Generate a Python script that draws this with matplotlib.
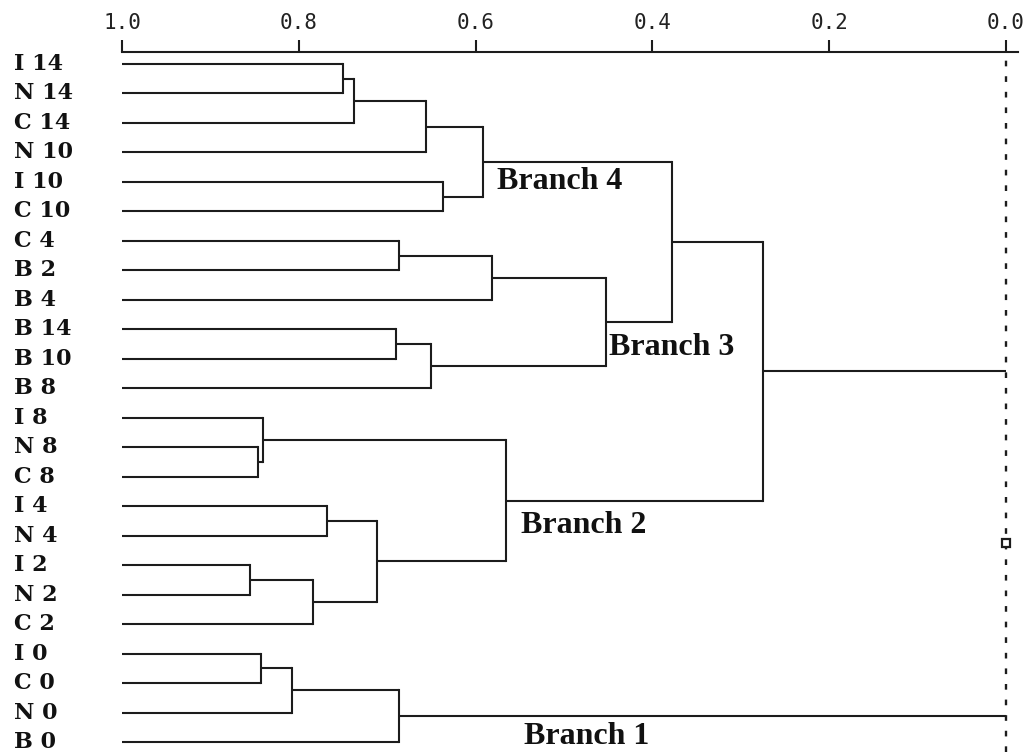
import matplotlib
matplotlib.use("Agg")
import matplotlib.pyplot as plt
from matplotlib.transforms import blended_transform_factory

# leaf order, top to bottom
leaves = ["I 14", "N 14", "C 14", "N 10", "I 10", "C 10", "C 4", "B 2", "B 4",
          "B 14", "B 10", "B 8", "I 8", "N 8", "C 8", "I 4", "N 4", "I 2", "N 2",
          "C 2", "I 0", "C 0", "N 0", "B 0"]

# merges: name, children, similarity
node_names = ["a", "b", "c", "d", "e", "f", "g", "h", "i", "j", "k",
              "l", "m", "n", "o", "p", "q", "r", "s", "t", "u", "v", "root"]
node_children = [("I 14", "N 14"), ("a", "C 14"), ("b", "N 10"), ("I 10", "C 10"),
                 ("c", "d"), ("C 4", "B 2"), ("f", "B 4"), ("B 14", "B 10"),
                 ("h", "B 8"), ("g", "i"), ("e", "j"), ("N 8", "C 8"),
                 ("I 8", "l"), ("I 4", "N 4"), ("I 2", "N 2"), ("o", "C 2"),
                 ("n", "p"), ("m", "q"), ("k", "r"), ("I 0", "C 0"),
                 ("t", "N 0"), ("u", "B 0"), ("s", "v")]
node_heights = [0.750, 0.737, 0.656, 0.637, 0.592, 0.687, 0.582, 0.690, 0.650,
                0.452, 0.378, 0.846, 0.840, 0.768, 0.855, 0.784, 0.712, 0.566,
                0.275, 0.843, 0.808, 0.687, 0.0]

branch_labels = ["Branch 4", "Branch 3", "Branch 2", "Branch 1"]
branch_nodes = ["e", "j", "r", "v"]
branch_offsets = [(14, -20), (3, -26), (15, -25), (125, -20)]  # pixels

xticks = [1.0, 0.8, 0.6, 0.4, 0.2, 0.0]

line_c = "#1c1c1c"
lw = 1.5

fig = plt.figure(figsize=(10.29, 7.52), dpi=100)
W, H = 1029, 752
ax = fig.add_axes([122 / W, 0, 896 / W, 1 - 52 / H])
ax.set_xlim(1.0, -0.0136)
ax.set_ylim(23.34, -0.407)

pos = {name: (i, 1.0) for i, name in enumerate(leaves)}
for name, (a, b), h in zip(node_names, node_children, node_heights):
    ya, ha = pos[a]
    yb, hb = pos[b]
    ax.plot([ha, h], [ya, ya], color=line_c, lw=lw, solid_capstyle="butt")
    ax.plot([hb, h], [yb, yb], color=line_c, lw=lw, solid_capstyle="butt")
    if name != "root":
        ax.plot([h, h], [ya, yb], color=line_c, lw=lw, solid_capstyle="projecting")
    pos[name] = ((ya + yb) / 2, h)

# dashed line at 0.0 joins the two main groups
ax.axvline(0.0, color=line_c, lw=1.7, ls=(0, (2.4, 4.2)))
ax.plot([0.0], [16.25], marker="s", ms=6, mfc="white", mec=line_c, mew=1.6)

for txt, node, (dx, dy) in zip(branch_labels, branch_nodes, branch_offsets):
    y, h = pos[node]
    ax.annotate(txt, (h, y), xytext=(dx, dy), textcoords="offset pixels",
                ha="left", va="center", fontsize=23, fontweight="bold",
                family="Liberation Serif", color="#111111")

# leaf labels
trans = blended_transform_factory(fig.transFigure, ax.transData)
for i, name in enumerate(leaves):
    ax.text(14 / W, i, name, transform=trans, ha="left", va="center",
            fontsize=16, fontweight="bold", family="DejaVu Serif", color="#111111")

ax.xaxis.tick_top()
ax.set_xticks(xticks)
ax.set_xticklabels([f"{t:.1f}" for t in xticks], family="DejaVu Sans Mono",
                   fontsize=15, color="#222222")
ax.tick_params(axis="x", direction="out", length=8.5, width=1.5, pad=5,
               color=line_c)
ax.set_yticks([])
for s in ["left", "right", "bottom"]:
    ax.spines[s].set_visible(False)
ax.spines["top"].set_linewidth(lw)
ax.spines["top"].set_color(line_c)
ax.patch.set_alpha(0)

fig.savefig("out.png", dpi=100)
